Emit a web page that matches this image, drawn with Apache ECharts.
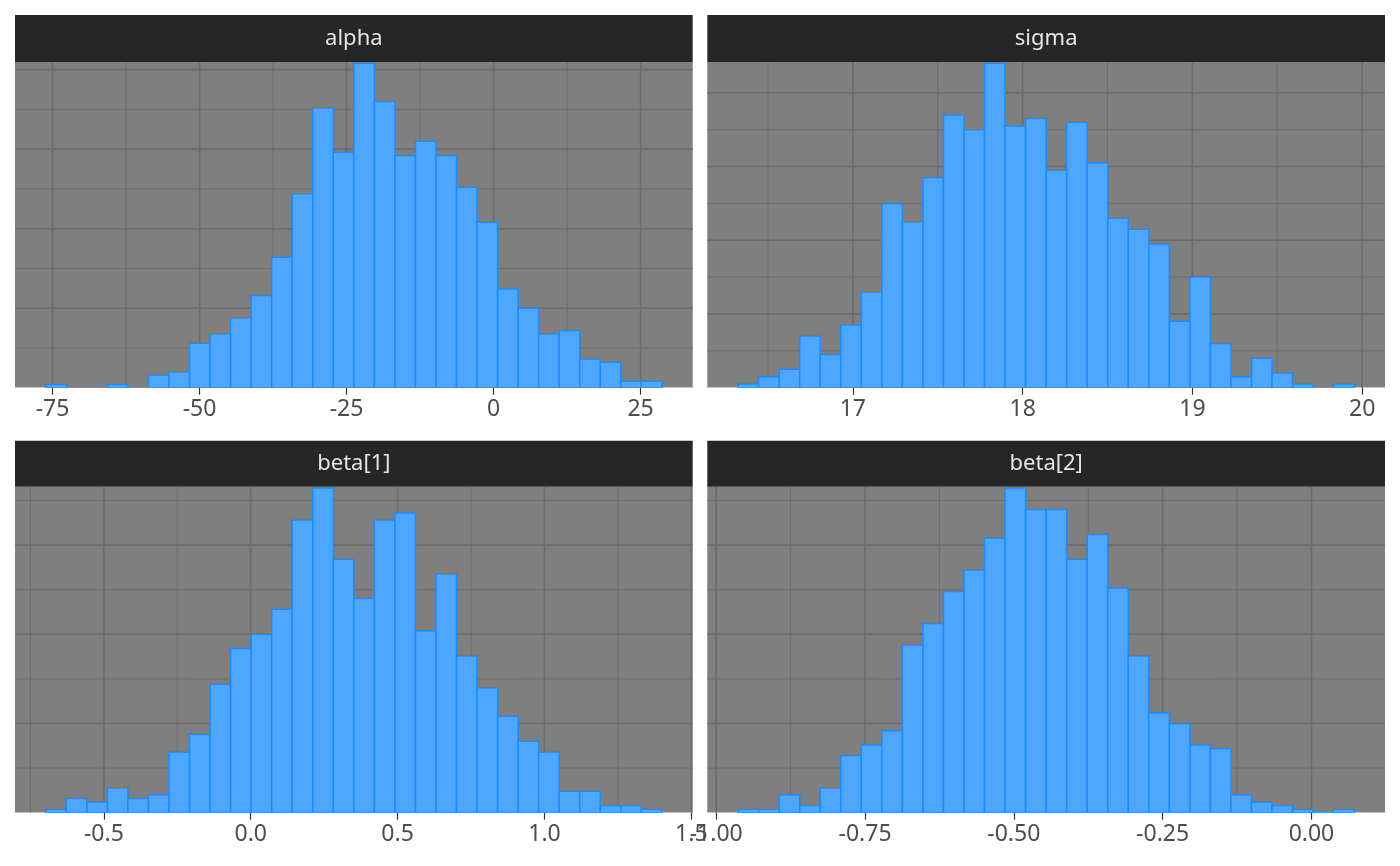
<!DOCTYPE html>
<html><head><meta charset="utf-8">
<script src="https://cdn.jsdelivr.net/npm/echarts@6/dist/echarts.min.js"></script>
<style>html,body{margin:0;padding:0;background:#fff}#c{width:1400px;height:866px}</style>
</head><body><div id="c"></div>
<script>
// ---------- data ----------
const panelNames = ['alpha', 'sigma', 'beta[1]', 'beta[2]'];

const alphaFirstEdge = -76.14, alphaBinWidth = 3.492;
const alphaCounts = [2, 0, 0, 2, 0, 8, 10, 28, 34, 44, 58, 82, 122, 176, 148, 204, 180, 146, 155, 146, 126, 104, 62, 50, 34, 36, 18, 16, 4, 4];
const alphaTicks = [-75, -50, -25, 0, 25];
const alphaMinorX = [-62.5, -37.5, -12.5, 12.5];
const alphaMajorY = [50, 100, 150, 200];
const alphaMinorY = [25, 75, 125, 175];

const sigmaFirstEdge = 16.324, sigmaBinWidth = 0.12097;
const sigmaCounts = [2, 6, 10, 28, 18, 34, 52, 100, 90, 114, 148, 140, 176, 142, 146, 118, 144, 122, 92, 86, 78, 36, 60, 24, 6, 16, 8, 2, 0, 2];
const sigmaTicks = [17, 18, 19, 20];
const sigmaMinorX = [16.5, 17.5, 18.5, 19.5];
const sigmaMajorY = [40, 80, 120, 160];
const sigmaMinorY = [20, 60, 100, 140];

const beta1FirstEdge = -0.6976, beta1BinWidth = 0.06991;
const beta1Counts = [2, 8, 6, 14, 8, 10, 34, 44, 72, 92, 100, 114, 164, 182, 142, 120, 164, 168, 102, 134, 88, 70, 54, 40, 34, 12, 12, 4, 4, 2];
const beta1Ticks = [-0.5, 0.0, 0.5, 1.0, 1.5];
const beta1MinorX = [-0.75, -0.25, 0.25, 0.75, 1.25];
const beta1MajorY = [50, 100, 150];
const beta1MinorY = [25, 75, 125, 175];

const beta2FirstEdge = -0.9632, beta2BinWidth = 0.0345;
const beta2Counts = [2, 2, 10, 4, 14, 32, 38, 46, 94, 106, 124, 136, 154, 182, 170, 170, 142, 156, 126, 88, 56, 50, 38, 36, 10, 6, 4, 2, 0, 2];
const beta2Ticks = [-1.0, -0.75, -0.5, -0.25, 0.0];
const beta2MinorX = [-0.875, -0.625, -0.375, -0.125];
const beta2MajorY = [50, 100, 150];
const beta2MinorY = [25, 75, 125, 175];

// ---------- build ----------
const panels = [
  {name: panelNames[0], first: alphaFirstEdge, bw: alphaBinWidth, counts: alphaCounts, ticks: alphaTicks, minorX: alphaMinorX, majorY: alphaMajorY, minorY: alphaMinorY, dec: 0},
  {name: panelNames[1], first: sigmaFirstEdge, bw: sigmaBinWidth, counts: sigmaCounts, ticks: sigmaTicks, minorX: sigmaMinorX, majorY: sigmaMajorY, minorY: sigmaMinorY, dec: 0},
  {name: panelNames[2], first: beta1FirstEdge, bw: beta1BinWidth, counts: beta1Counts, ticks: beta1Ticks, minorX: beta1MinorX, majorY: beta1MajorY, minorY: beta1MinorY, dec: 1},
  {name: panelNames[3], first: beta2FirstEdge, bw: beta2BinWidth, counts: beta2Counts, ticks: beta2Ticks, minorX: beta2MinorX, majorY: beta2MajorY, minorY: beta2MinorY, dec: 2}
];

const colX = [15, 707.3], panelW = 677.7;
const stripTop = [15, 440.7], panelTop = [62, 486.7], panelH = [325.7, 326];
const FONT = '"Noto Sans", "Open Sans", sans-serif';

const grids = [], xAxes = [], yAxes = [], series = [], graphics = [];

panels.forEach((p, k) => {
  const col = k % 2, row = Math.floor(k / 2);
  const n = p.counts.length;
  const lo = p.first, hi = p.first + n * p.bw;
  const ex = (hi - lo) * 0.05;
  const ymax = Math.max(...p.counts) * 1.004;

  grids.push({left: colX[col], top: panelTop[row], width: panelW, height: panelH[row], show: true, backgroundColor: '#7f7f7f', borderWidth: 0, containLabel: false});
  xAxes.push({
    type: 'value', gridIndex: k, min: lo - ex, max: hi + ex,
    axisLine: {show: true, onZero: false, lineStyle: {color: '#c4c4c4', width: 1}},
    axisTick: {show: true, customValues: p.ticks, length: 7, lineStyle: {color: '#333333', width: 1.2}},
    axisLabel: {show: true, customValues: p.ticks, margin: 10, color: '#4d4d4d', fontSize: 23, fontFamily: FONT,
      formatter: v => Number(v).toFixed(p.dec)},
    splitLine: {show: false}
  });
  yAxes.push({type: 'value', gridIndex: k, min: 0, max: ymax, show: true,
    axisLine: {show: false}, axisTick: {show: false}, axisLabel: {show: false}, splitLine: {show: false}});

  // grid lines (through the axes' scales)
  const vlines = p.minorX.map(v => [v, 0]).concat(p.ticks.map(v => [v, 1]));
  const hlines = p.minorY.map(v => [v, 0]).concat(p.majorY.map(v => [v, 1]));
  series.push({
    type: 'custom', xAxisIndex: k, yAxisIndex: k, z: 1, silent: true, clip: true,
    data: vlines,
    renderItem: (params, api) => {
      const cs = params.coordSys;
      const x = api.coord([api.value(0), 0])[0];
      const major = api.value(1) === 1;
      return {type: 'line', shape: {x1: x, y1: cs.y, x2: x, y2: cs.y + cs.height},
        style: {stroke: '#6b6b6b', lineWidth: major ? 1.6 : 0.9}};
    }
  });
  series.push({
    type: 'custom', xAxisIndex: k, yAxisIndex: k, z: 1, silent: true, clip: true,
    data: hlines,
    renderItem: (params, api) => {
      const cs = params.coordSys;
      const y = api.coord([lo, api.value(0)])[1];
      const major = api.value(1) === 1;
      return {type: 'line', shape: {x1: cs.x, y1: y, x2: cs.x + cs.width, y2: y},
        style: {stroke: '#6b6b6b', lineWidth: major ? 1.6 : 0.9}};
    }
  });
  // histogram bars
  series.push({
    type: 'custom', xAxisIndex: k, yAxisIndex: k, z: 2, silent: true, clip: true,
    encode: {x: [0, 1], y: 2},
    data: p.counts.map((c, i) => [p.first + i * p.bw, p.first + (i + 1) * p.bw, c]),
    renderItem: (params, api) => {
      const a = api.coord([api.value(0), api.value(2)]);
      const b = api.coord([api.value(1), 0]);
      return {type: 'rect', shape: {x: a[0], y: a[1], width: b[0] - a[0], height: b[1] - a[1]},
        style: {fill: '#4da7ff', stroke: '#1a8cff', lineWidth: 1.5}};
    }
  });

  // facet strip
  graphics.push({type: 'rect', left: colX[col], top: stripTop[row],
    shape: {width: panelW, height: panelTop[row] - stripTop[row]}, style: {fill: '#262626'}, z: 10});
  graphics.push({type: 'text', x: colX[col] + panelW / 2, y: (stripTop[row] + panelTop[row]) / 2 + 0.5,
    style: {text: p.name, fill: '#e5e5e5', font: '22px ' + FONT, textAlign: 'center', textVerticalAlign: 'middle'}, z: 11});
});

const chart = echarts.init(document.getElementById('c'), null, {renderer: 'canvas'});
chart.setOption({
  animation: false,
  backgroundColor: '#ffffff',
  grid: grids, xAxis: xAxes, yAxis: yAxes, series: series,
  graphic: graphics
});
</script>
</body></html>
